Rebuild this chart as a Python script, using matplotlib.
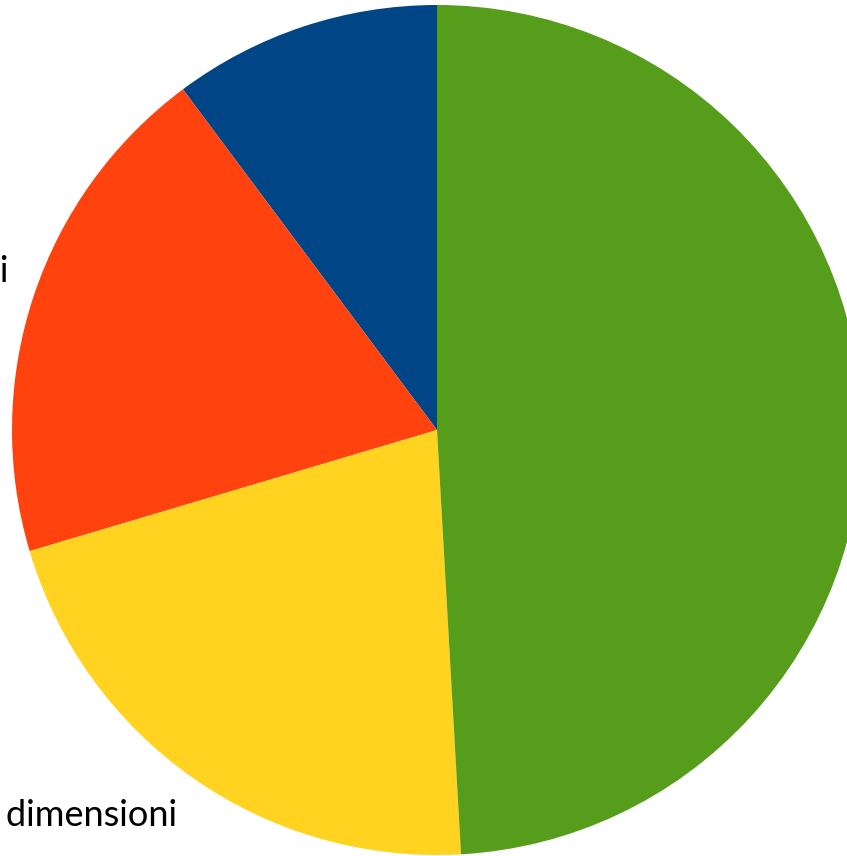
import numpy as np
import matplotlib.pyplot as plt

labels = ['Grandi dimensioni', 'Medie dimensioni', 'Piccole dimensioni', 'Micro imprese']
values = [10.2, 19.4, 21.3, 49.1]
colors = ['#004586', '#FF420E', '#FFD320', '#579D1C']

fig = plt.figure(figsize=(8.47, 8.56), dpi=100)
ax = fig.add_axes([0, 0, 1, 1])

wedges, texts = ax.pie(values, labels=labels, colors=colors, startangle=90,
                       counterclock=True, labeldistance=1.062,
                       wedgeprops=dict(linewidth=0),
                       textprops=dict(fontsize=26, family='Lato', color='black'))
# labels above the centre sit on their anchor, those below hang from it
for t in texts:
    x, y = t.get_position()
    t.set_va('bottom' if y > 0 else 'top')

ax.set_aspect('equal')
ax.set_xlim(-437 / 425, 410 / 425)
ax.set_ylim(-426 / 425, 430 / 425)
ax.axis('off')

fig.savefig('out.png', dpi=100)
